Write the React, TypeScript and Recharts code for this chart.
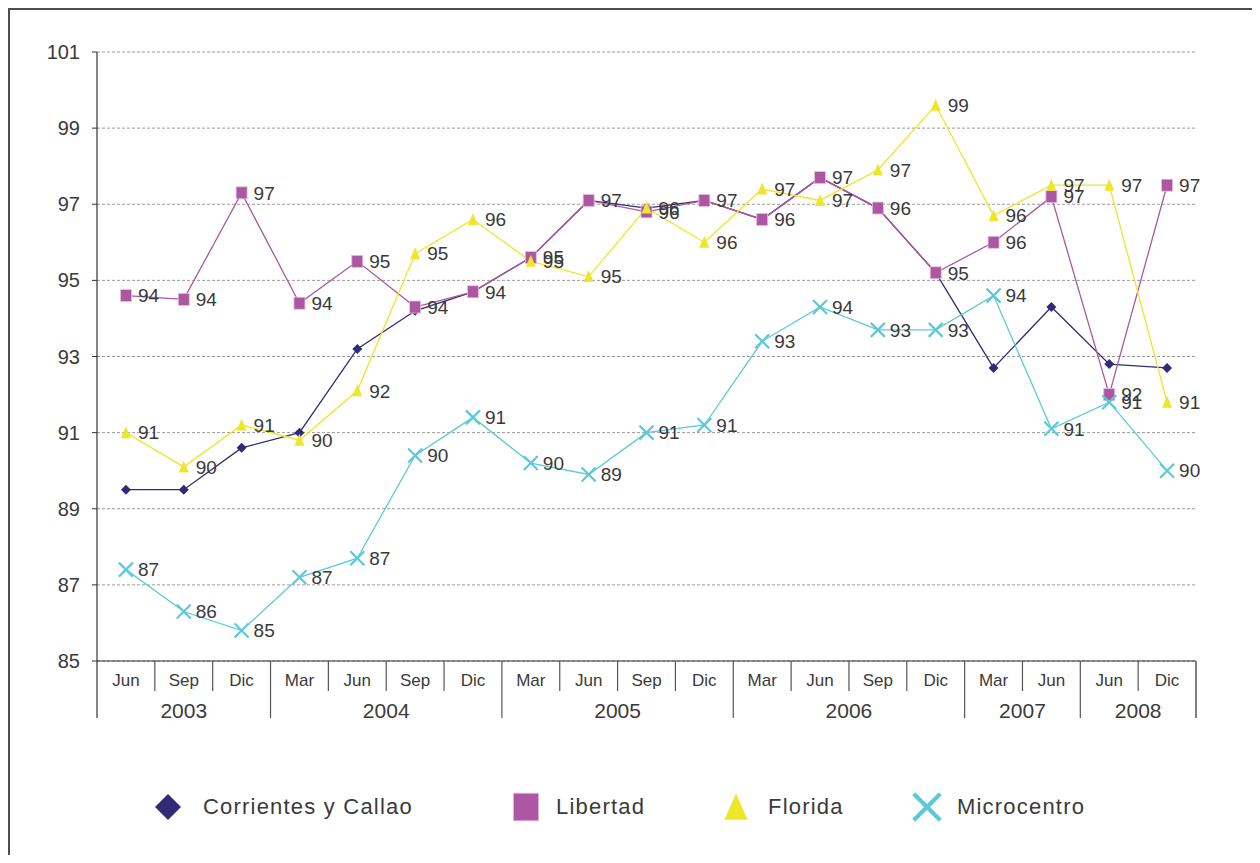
import React from 'react';
import { LineChart, Line, XAxis, YAxis, CartesianGrid, LabelList, Legend } from 'recharts';

// Trimestres y años de la encuesta
const months = ['Jun', 'Sep', 'Dic', 'Mar', 'Jun', 'Sep', 'Dic', 'Mar', 'Jun', 'Sep', 'Dic', 'Mar', 'Jun', 'Sep', 'Dic', 'Mar', 'Jun', 'Jun', 'Dic'];
const years = ['2003', '2003', '2003', '2004', '2004', '2004', '2004', '2005', '2005', '2005', '2005', '2006', '2006', '2006', '2006', '2007', '2007', '2008', '2008'];

// Índices por zona
const corrientes = [89.5, 89.5, 90.6, 91.0, 93.2, 94.2, 94.7, 95.6, 97.1, 96.9, 97.1, 96.6, 97.7, 96.9, 95.2, 92.7, 94.3, 92.8, 92.7];
const libertad = [94.6, 94.5, 97.3, 94.4, 95.5, 94.3, 94.7, 95.6, 97.1, 96.8, 97.1, 96.6, 97.7, 96.9, 95.2, 96.0, 97.2, 92.0, 97.5];
const florida = [91.0, 90.1, 91.2, 90.8, 92.1, 95.7, 96.6, 95.5, 95.1, 96.9, 96.0, 97.4, 97.1, 97.9, 99.6, 96.7, 97.5, 97.5, 91.8];
const microcentro = [87.4, 86.3, 85.8, 87.2, 87.7, 90.4, 91.4, 90.2, 89.9, 91.0, 91.2, 93.4, 94.3, 93.7, 93.7, 94.6, 91.1, 91.8, 90.0];

const yTicks = [85, 87, 89, 91, 93, 95, 97, 99, 101];

const series = [
  { key: 'corrientes', name: 'Corrientes y Callao', color: '#312b74', shape: 'diamond', labels: false },
  { key: 'libertad', name: 'Libertad', color: '#ad57a3', shape: 'square', labels: true },
  { key: 'florida', name: 'Florida', color: '#eee62a', shape: 'triangle', labels: true },
  { key: 'microcentro', name: 'Microcentro', color: '#5cc9da', shape: 'cross', labels: true },
];

const data = months.map((m, i) => ({
  idx: i,
  corrientes: corrientes[i],
  libertad: libertad[i],
  florida: florida[i],
  microcentro: microcentro[i],
}));

// layout
const W = 1248;
const H = 845;
const M = { top: 42, right: 62, bottom: 124, left: 27 };
const Y_AXIS_W = 60;
const X_AXIS_H = 70;
const PLOT_LEFT = M.left + Y_AXIS_W;
const PLOT_W = W - PLOT_LEFT - M.right;
const STEP = PLOT_W / months.length;
const AXIS_Y = H - M.bottom - X_AXIS_H;
const FONT = '"Liberation Sans", Arial, sans-serif';
const TEXT = '#3a3a3a';

const Marker = ({ shape, color, cx, cy, scale = 1 }: any) => {
  if (cx == null || cy == null) return null;
  if (shape === 'diamond') {
    const r = 5 * scale;
    return <path d={`M${cx},${cy - r}L${cx + r},${cy}L${cx},${cy + r}L${cx - r},${cy}Z`} fill={color} />;
  }
  if (shape === 'square') {
    const w = 11 * scale, h = 12 * scale;
    return <rect x={cx - w / 2} y={cy - h / 2} width={w} height={h} fill={color} stroke="#e4bfe0" strokeWidth={0.8} />;
  }
  if (shape === 'triangle') {
    const w = 10 * scale, h = 11 * scale;
    return <path d={`M${cx},${cy - h / 2 - 1}L${cx + w / 2},${cy + h / 2}L${cx - w / 2},${cy + h / 2}Z`} fill={color} />;
  }
  const r = 7 * scale;
  return (
    <g stroke={color} strokeWidth={2.2 * scale}>
      <line x1={cx - r} y1={cy - r} x2={cx + r} y2={cy + r} />
      <line x1={cx - r} y1={cy + r} x2={cx + r} y2={cy - r} />
    </g>
  );
};

const CategoryTick = (props: any) => {
  const { x, payload } = props;
  const i = Number(payload.value);
  const n = months.length;
  const lastOfYear = i === n - 1 || years[i] !== years[i + 1];
  const firstOfYear = i === 0 || years[i] !== years[i - 1];
  const count = years.filter((y) => y === years[i]).length;
  const right = x + STEP / 2;
  return (
    <g>
      <text x={x} y={AXIS_Y + 19} textAnchor="middle" dominantBaseline="central" fontSize={17} fill={TEXT} fontFamily={FONT}>
        {months[i]}
      </text>
      {i === 0 && <line x1={x - STEP / 2} y1={AXIS_Y} x2={x - STEP / 2} y2={AXIS_Y + 57} stroke="#333" strokeWidth={1.2} />}
      <line
        x1={right}
        y1={AXIS_Y}
        x2={right}
        y2={AXIS_Y + (lastOfYear ? 57 : 30)}
        stroke={i === n - 1 ? '#808080' : '#555'}
        strokeWidth={i === n - 1 ? 2 : 1.2}
      />
      {firstOfYear && (
        <text
          x={x - STEP / 2 + (count * STEP) / 2}
          y={AXIS_Y + 49}
          textAnchor="middle"
          dominantBaseline="central"
          fontSize={21}
          fill={TEXT}
          fontFamily={FONT}
        >
          {years[i]}
        </text>
      )}
    </g>
  );
};

const legendSlots = [
  { icon: 158, text: 193 },
  { icon: 516, text: 546 },
  { icon: 726, text: 758 },
  { icon: 917, text: 947 },
];

const LegendContent = () => (
  <div style={{ position: 'relative', width: W, height: 40, fontFamily: FONT }}>
    {series.map((s, i) => (
      <React.Fragment key={s.key}>
        <svg
          width={40}
          height={40}
          style={{ position: 'absolute', left: legendSlots[i].icon - 20, top: 0 }}
        >
          <Marker shape={s.shape} color={s.color} cx={20} cy={20} scale={s.shape === 'diamond' ? 2.6 : s.shape === 'cross' ? 1.9 : 2.3} />
        </svg>
        <span
          style={{
            position: 'absolute',
            left: legendSlots[i].text,
            top: 8,
            fontSize: 22,
            letterSpacing: 1.2,
            color: TEXT,
            lineHeight: '24px',
            whiteSpace: 'nowrap',
          }}
        >
          {s.name}
        </span>
      </React.Fragment>
    ))}
  </div>
);

// las etiquetas muestran la parte entera del índice
const floorLabel = (v: any) => Math.floor(Number(v) + 1e-9);

export default function App() {
  return (
    <div
      style={{
        width: 1250,
        height: 847,
        boxSizing: 'border-box',
        borderTop: '2px solid #4d4d4d',
        borderLeft: '2px solid #4d4d4d',
        overflow: 'hidden',
        background: '#fff',
      }}
    >
      <LineChart width={W} height={H} data={data} margin={M}>
        <CartesianGrid vertical={false} stroke="#9a9a9a" strokeDasharray="3 2" />
        <XAxis
          dataKey="idx"
          type="category"
          interval={0}
          height={X_AXIS_H}
          padding={{ left: STEP / 2, right: STEP / 2 }}
          axisLine={{ stroke: '#333', strokeWidth: 1.2 }}
          tickLine={false}
          tick={<CategoryTick />}
        />
        <YAxis
          domain={[85, 101]}
          ticks={yTicks}
          width={Y_AXIS_W}
          axisLine={{ stroke: '#333', strokeWidth: 1.2 }}
          tickLine={{ stroke: '#333' }}
          tickSize={5}
          tickMargin={12}
          tick={{ fill: TEXT, fontSize: 20, fontFamily: FONT }}
        />
        <YAxis
          yAxisId="right"
          orientation="right"
          domain={[85, 101]}
          width={0}
          tick={false}
          tickLine={false}
          axisLine={{ stroke: '#808080', strokeWidth: 2 }}
        />
        {series.map((s) => (
          <Line
            key={s.key}
            dataKey={s.key}
            name={s.name}
            type="linear"
            stroke={s.color}
            strokeWidth={1.3}
            isAnimationActive={false}
            dot={(p: any) => <Marker key={`${s.key}-${p.index}`} shape={s.shape} color={s.color} cx={p.cx} cy={p.cy} />}
            activeDot={false}
          >
            {s.labels && (
              <LabelList
                dataKey={s.key}
                position="right"
                offset={12}
                formatter={floorLabel}
                style={{ fill: TEXT, fontSize: 19, fontFamily: FONT }}
              />
            )}
          </Line>
        ))}
        <Legend
          layout="horizontal"
          verticalAlign="middle"
          content={<LegendContent />}
          wrapperStyle={{ left: 0, top: 777, width: W, height: 40 }}
        />
      </LineChart>
    </div>
  );
}
